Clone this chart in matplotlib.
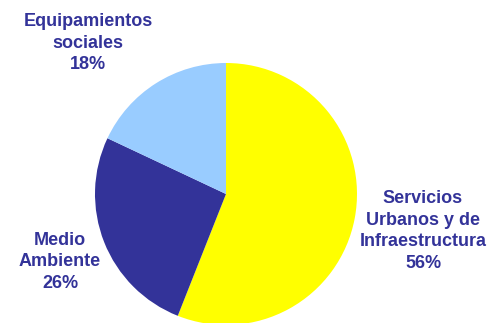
import matplotlib
matplotlib.use("Agg")
import matplotlib.pyplot as plt

labels = ["Servicios\nUrbanos y de\nInfraestructura", "Medio\nAmbiente", "Equipamientos\nsociales"]
values = [56, 26, 18]
colors = ["#FFFF00", "#333399", "#99CCFF"]
text_color = "#333399"

W, H = 490, 323
fig = plt.figure(figsize=(W / 100, H / 100), dpi=100)
ax = fig.add_axes([0, 0, 1, 1])

cx, cy, r = 226, H - 194, 131
ax.pie(values, colors=colors, startangle=90, counterclock=False,
       center=(cx, cy), radius=r, frame=True,
       wedgeprops=dict(linewidth=0))
ax.set_xlim(0, W)
ax.set_ylim(0, H)
ax.set_aspect("equal")
ax.axis("off")

label_pos = [(423, 231), (60, 262), (88, 43)]
for lab, v, (x, y) in zip(labels, values, label_pos):
    ax.text(x, H - y, f"{lab}\n{v}%", ha="center", va="center",
            fontsize=13, fontweight="bold", color=text_color,
            family="Liberation Sans", linespacing=1.38)

fig.savefig("out.png", dpi=100)
